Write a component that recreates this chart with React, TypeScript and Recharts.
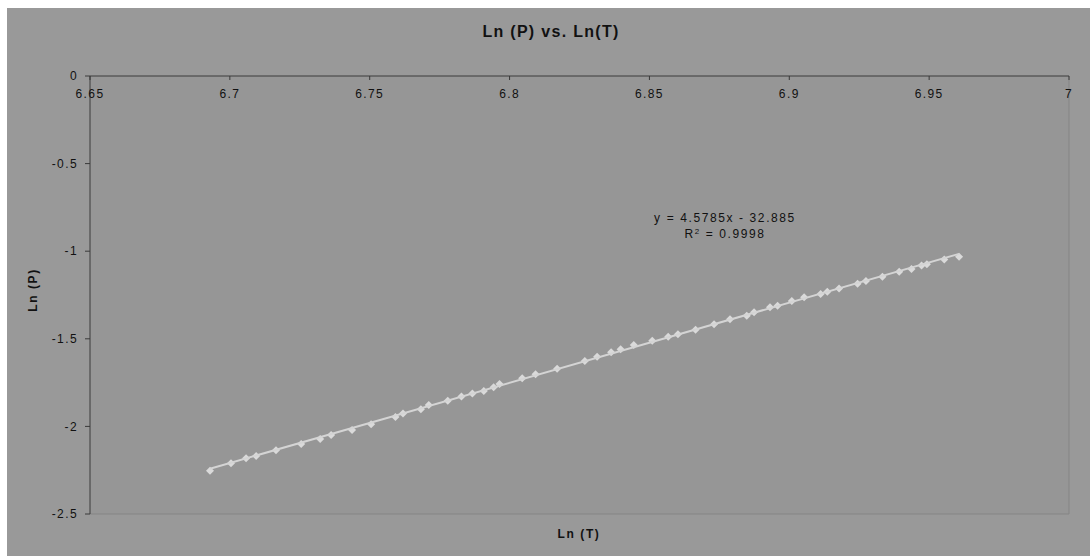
import React from 'react';
import { ScatterChart, Scatter, XAxis, YAxis, CartesianGrid, ReferenceLine } from 'recharts';

// Ln(T) and Ln(P) readings
const LN_T = [
  6.6929, 6.7004, 6.7058, 6.7094, 6.7165, 6.7255, 6.7323, 6.7362, 6.7437, 6.7505,
  6.7592, 6.7619, 6.7683, 6.7711, 6.7779, 6.7828, 6.7867, 6.7908, 6.7943, 6.7964,
  6.8045, 6.8093, 6.817, 6.8269, 6.8313, 6.8363, 6.8397, 6.8444, 6.851, 6.8567,
  6.8602, 6.8665, 6.8731, 6.8788, 6.8848, 6.8874, 6.8931, 6.8958, 6.9009, 6.9053,
  6.9112, 6.9136, 6.9178, 6.9244, 6.9274, 6.9333, 6.9393, 6.9437, 6.9473, 6.9492,
  6.9554, 6.9607,
];
const LN_P = [
  -2.253, -2.211, -2.182, -2.169, -2.136, -2.1, -2.072, -2.049, -2.021, -1.988,
  -1.946, -1.927, -1.902, -1.878, -1.853, -1.83, -1.812, -1.798, -1.777, -1.758,
  -1.725, -1.703, -1.671, -1.627, -1.602, -1.577, -1.56, -1.535, -1.511, -1.488,
  -1.474, -1.448, -1.417, -1.389, -1.368, -1.349, -1.32, -1.311, -1.284, -1.263,
  -1.245, -1.232, -1.213, -1.186, -1.17, -1.146, -1.118, -1.102, -1.082, -1.074,
  -1.048, -1.032,
];

const X_TICKS = [6.65, 6.7, 6.75, 6.8, 6.85, 6.9, 6.95, 7];
const Y_TICKS = [0, -0.5, -1, -1.5, -2, -2.5];

// linear trendline shown on the chart
const FIT_SLOPE = 4.5785;
const FIT_INTERCEPT = -32.885;
const R_SQUARED = '0.9998';

const points = LN_T.map((x, i) => ({ x, y: LN_P[i] }));
const trend = [LN_T[0], LN_T[LN_T.length - 1]].map((x) => ({ x, y: FIT_SLOPE * x + FIT_INTERCEPT }));

const FONT = '"Liberation Sans", Arial, sans-serif';

const Diamond = (props: any) => {
  const { cx, cy } = props;
  const r = 4;
  return (
    <polygon
      points={`${cx},${cy - r} ${cx + r},${cy} ${cx},${cy + r} ${cx - r},${cy}`}
      fill="#dadada"
    />
  );
};

const textStyle: React.CSSProperties = {
  position: 'absolute',
  transform: 'translate(-50%, -50%)',
  whiteSpace: 'nowrap',
  lineHeight: 1,
  fontFamily: FONT,
  color: '#111',
};

export default function App() {
  const tick = { fontSize: 12, fill: '#111', fontFamily: FONT, letterSpacing: 1.4 };
  return (
    <div style={{ position: 'absolute', left: 7, top: 8, width: 1083, height: 548, background: '#999999' }}>
      <ScatterChart width={1083} height={548} margin={{ top: 68, right: 21, bottom: 42, left: 23 }}>
        <CartesianGrid horizontal={false} vertical={false} fill="#969696" />
        <XAxis
          type="number"
          dataKey="x"
          orientation="top"
          mirror
          domain={[6.65, 7]}
          ticks={X_TICKS}
          interval={0}
          tickSize={4}
          tickMargin={9}
          axisLine={{ stroke: '#3a3a3a' }}
          tickLine={{ stroke: '#3a3a3a' }}
          tick={tick}
        />
        <YAxis
          type="number"
          dataKey="y"
          width={60}
          domain={[-2.5, 0]}
          ticks={Y_TICKS}
          interval={0}
          tickSize={5}
          tickMargin={7}
          axisLine={{ stroke: '#3a3a3a' }}
          tickLine={{ stroke: '#3a3a3a' }}
          tick={tick}
        />
        <ReferenceLine y={-2.5} stroke="#858585" strokeWidth={1} />
        <ReferenceLine x={7} stroke="#858585" strokeWidth={1} />
        <Scatter data={points} shape={Diamond} isAnimationActive={false} />
        <Scatter
          data={trend}
          line={{ stroke: '#d4d4d4', strokeWidth: 2 }}
          shape={() => <g />}
          isAnimationActive={false}
        />
      </ScatterChart>
      <div style={{ ...textStyle, left: 544, top: 24, fontSize: 16, fontWeight: 'bold', letterSpacing: 1.3 }}>
        Ln (P) vs. Ln(T)
      </div>
      <div style={{ ...textStyle, left: 572, top: 526, fontSize: 12, fontWeight: 'bold', letterSpacing: 1.6 }}>
        Ln (T)
      </div>
      <div
        style={{
          ...textStyle,
          left: 26,
          top: 282,
          fontSize: 12,
          fontWeight: 'bold',
          letterSpacing: 1.6,
          transform: 'translate(-50%, -50%) rotate(-90deg)',
        }}
      >
        Ln (P)
      </div>
      <div style={{ ...textStyle, left: 718, top: 210, fontSize: 12, letterSpacing: 1.6 }}>
        y = {FIT_SLOPE}x - {Math.abs(FIT_INTERCEPT)}
      </div>
      <div style={{ ...textStyle, left: 718, top: 226, fontSize: 12, letterSpacing: 1.6 }}>
        R<sup style={{ fontSize: 8, verticalAlign: 'top', lineHeight: 1 }}>2</sup> = {R_SQUARED}
      </div>
    </div>
  );
}
